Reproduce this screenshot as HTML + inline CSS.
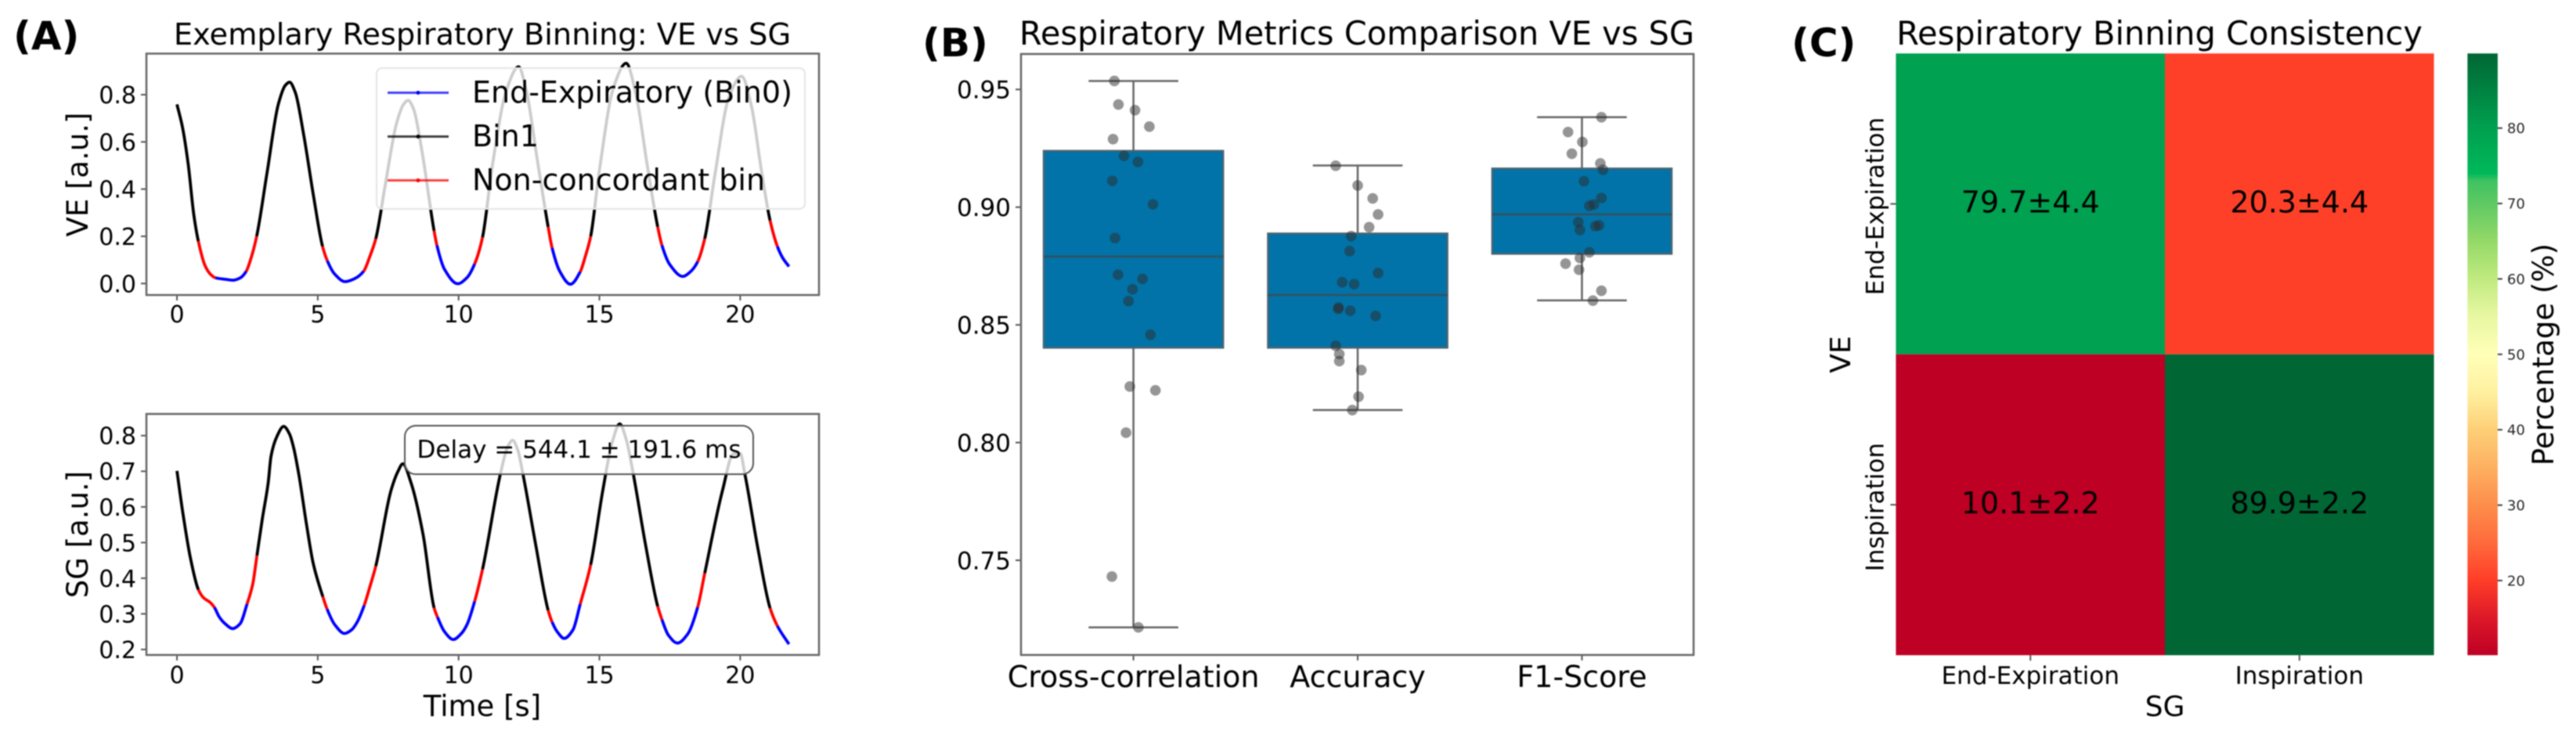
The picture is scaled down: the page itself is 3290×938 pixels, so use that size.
<!DOCTYPE html>
<html lang="en">
<head>
<meta charset="utf-8">
<title>Respiratory Binning: VE vs SG</title>
<style>
html,body{margin:0;padding:0;background:#fff;width:3290px;height:938px;overflow:hidden}
svg{display:block;filter:blur(0.7px)}
text{font-family:"DejaVu Sans","Liberation Sans",sans-serif;fill:#000}
</style>
</head>
<body>
<svg id="figure" xmlns="http://www.w3.org/2000/svg" width="3290" height="938" viewBox="0 0 3290 938">
  <defs>
    <linearGradient id="cbar-gradient" x1="0" y1="1" x2="0" y2="0"></linearGradient>
  </defs>
  <rect x="0" y="0" width="3290" height="938" fill="#ffffff"/>

  <text x="17" y="63" font-size="50" font-weight="bold">(A)</text>
  <text x="1178" y="72" font-size="50" font-weight="bold">(B)</text>
  <text x="2288" y="72" font-size="50" font-weight="bold">(C)</text>

  <text x="616" y="57" font-size="38.3" text-anchor="middle">Exemplary Respiratory Binning: VE vs SG</text>
  <text x="1733" y="57" font-size="41.5" text-anchor="middle">Respiratory Metrics Comparison VE vs SG</text>
  <text x="2758" y="57" font-size="41.5" text-anchor="middle">Respiratory Binning Consistency</text>

  <g id="ve-plot"></g>
  <g id="sg-plot"></g>
  <g id="box-plot"></g>
  <g id="heat-plot"></g>

  <text transform="translate(112,223) rotate(-90)" font-size="37" text-anchor="middle">VE [a.u.]</text>
  <text transform="translate(112,683) rotate(-90)" font-size="37" text-anchor="middle">SG [a.u.]</text>
  <text x="616" y="915" font-size="37" text-anchor="middle">Time [s]</text>
  <text transform="translate(2363,453) rotate(-90)" font-size="36" text-anchor="middle">VE</text>
  <text x="2765" y="915" font-size="36" text-anchor="middle">SG</text>
  <text transform="translate(3261,453) rotate(-90)" font-size="37" text-anchor="middle">Percentage (%)</text>

  <g id="legend">
    <rect x="481" y="87" width="547" height="180" rx="7" fill="#ffffff" fill-opacity="0.8" stroke="#e4e4e4" stroke-width="2"/>
    <line x1="495" x2="573" y1="118.5" y2="118.5" stroke="#0000ff" stroke-opacity="0.75" stroke-width="3"/>
    <circle cx="534" cy="118.5" r="2.5" fill="#0000ff"/>
    <text x="603" y="131" font-size="38">End-Expiratory (Bin0)</text>
    <line x1="495" x2="573" y1="174.5" y2="174.5" stroke="#000000" stroke-opacity="0.75" stroke-width="3"/>
    <circle cx="534" cy="174.5" r="2.5" fill="#000000"/>
    <text x="603" y="187" font-size="38">Bin1</text>
    <line x1="495" x2="573" y1="230.5" y2="230.5" stroke="#ff0000" stroke-opacity="0.75" stroke-width="3"/>
    <circle cx="534" cy="230.5" r="2.5" fill="#ff0000"/>
    <text x="603" y="243" font-size="38">Non-concordant bin</text>
  </g>

  <g id="delay-note">
    <rect x="517" y="544" width="445" height="62" rx="14" fill="#ffffff" fill-opacity="0.8" stroke="#555555" stroke-width="2"/>
    <text x="739.5" y="585" font-size="31" text-anchor="middle">Delay = 544.1 ± 191.6 ms</text>
  </g>
</svg>

<script>
/* ---------- Panel A: ventilation (VE) trace ---------- */
const timeTicks = [0, 5, 10, 15, 20];
const veTicks = [0.0, 0.2, 0.4, 0.6, 0.8];
const sgTicks = [0.2, 0.3, 0.4, 0.5, 0.6, 0.7, 0.8];

const veTime = [0,0.2,0.4,0.6,0.76,1.0,1.2,1.37,1.7,2.0,2.25,2.46,2.65,2.83,3.2,3.6,3.85,4.0,4.2,4.5,4.85,5.17,5.34,5.6,5.97,6.3,6.63,6.85,7.06,7.4,7.8,8.05,8.21,8.4,8.7,9.13,9.23,9.5,9.97,10.3,10.57,10.85,11.2,11.7,12.13,12.4,12.8,13.18,13.32,13.6,13.97,14.32,14.5,14.69,15.0,15.5,15.95,16.3,16.7,17.07,17.22,17.5,17.96,18.25,18.49,18.74,19.1,19.6,20.05,20.4,20.75,21.06,21.32,21.5,21.73];
const veValues = [0.759,0.66,0.505,0.29,0.179,0.075,0.038,0.024,0.018,0.014,0.024,0.052,0.115,0.2,0.47,0.76,0.84,0.853,0.81,0.63,0.37,0.157,0.096,0.04,0.008,0.02,0.052,0.115,0.19,0.42,0.68,0.76,0.776,0.74,0.56,0.223,0.162,0.06,-0.001,0.025,0.083,0.196,0.5,0.82,0.918,0.82,0.52,0.24,0.151,0.05,-0.003,0.05,0.115,0.2,0.48,0.83,0.933,0.8,0.5,0.24,0.162,0.08,0.03,0.052,0.093,0.19,0.46,0.79,0.878,0.75,0.48,0.267,0.157,0.11,0.072];
/* bin per knot: 0 end-expiratory, 1 bin1, 2 non-concordant */
const veBins = [1,1,1,1,2,2,2,0,0,0,0,2,2,1,1,1,1,1,1,1,1,2,0,0,0,0,2,2,1,1,1,1,1,1,1,2,0,0,0,0,2,1,1,1,1,1,1,2,0,0,0,2,2,1,1,1,1,1,1,2,0,0,0,0,2,1,1,1,1,1,1,2,0,0,0];

/* ---------- Panel A: surrogate (SG) trace ---------- */
const sgTime = [0,0.2,0.48,0.76,0.945,1.18,1.33,1.5,1.7,1.98,2.24,2.49,2.69,2.84,3.03,3.24,3.34,3.54,3.79,4.0,4.14,4.33,4.6,4.84,5.18,5.33,5.6,5.95,6.2,6.4,6.65,6.85,7.06,7.6,7.85,8.02,8.31,8.74,9.13,9.25,9.5,9.81,10.1,10.3,10.57,10.85,11.5,11.75,11.92,12.1,12.29,12.74,13.18,13.32,13.5,13.75,14.06,14.32,14.69,15.12,15.45,15.72,15.95,16.19,16.64,17.07,17.22,17.45,17.77,18.14,18.49,18.74,19.37,19.76,20.0,20.17,20.64,21.06,21.32,21.73];
const sgValues = [0.701,0.588,0.456,0.368,0.345,0.332,0.318,0.2915,0.273,0.2586,0.272,0.328,0.383,0.4635,0.566,0.668,0.742,0.796,0.826,0.804,0.767,0.69,0.551,0.441,0.348,0.3135,0.27,0.245,0.255,0.277,0.324,0.376,0.434,0.646,0.7,0.721,0.668,0.522,0.317,0.291,0.25,0.228,0.245,0.27,0.335,0.425,0.698,0.77,0.787,0.76,0.69,0.493,0.31,0.277,0.25,0.231,0.255,0.328,0.438,0.646,0.78,0.833,0.79,0.698,0.493,0.321,0.284,0.24,0.218,0.244,0.319,0.414,0.646,0.749,0.75,0.69,0.478,0.316,0.266,0.215];
const sgBins = [1,1,1,2,2,2,0,0,0,0,0,2,2,1,1,1,1,1,1,1,1,1,1,1,2,0,0,0,0,0,2,2,1,1,1,1,1,1,2,0,0,0,0,0,2,1,1,1,1,1,1,1,2,0,0,0,0,2,1,1,1,1,1,1,1,2,0,0,0,0,2,1,1,1,1,1,1,2,0,0];

/* ---------- Panel B: box plot ---------- */
const metricNames = ["Cross-correlation", "Accuracy", "F1-Score"];
const metricTicks = [0.75, 0.80, 0.85, 0.90, 0.95];
const boxQ1 = [0.8403, 0.8403, 0.8802];
const boxMedian = [0.879, 0.8627, 0.8969];
const boxQ3 = [0.9239, 0.8888, 0.9164];
const whiskerLow = [0.7215, 0.8138, 0.8604];
const whiskerHigh = [0.9536, 0.9177, 0.9382];

const crossCorrValues = [0.9536,0.9436,0.9412,0.9342,0.9289,0.9218,0.9192,0.9112,0.9012,0.8869,0.8713,0.8695,0.8651,0.8601,0.8458,0.8238,0.8222,0.8042,0.7431,0.7215];
const crossCorrJitter = [-0.085,-0.067,0.007,0.071,-0.091,-0.042,0.02,-0.094,0.087,-0.082,-0.069,0.04,-0.004,-0.022,0.076,-0.016,0.098,-0.033,-0.096,0.022];
const accuracyValues = [0.9176,0.9092,0.9037,0.8969,0.8915,0.8877,0.8813,0.872,0.8681,0.8673,0.8574,0.8568,0.856,0.8538,0.8411,0.8376,0.8346,0.8308,0.8195,0.8138];
const accuracyJitter = [-0.098,0,0.067,0.091,0.051,-0.029,-0.036,0.091,-0.069,-0.016,-0.085,-0.087,-0.033,0.08,-0.098,-0.082,-0.082,0.016,0.004,-0.024];
const f1Values = [0.9382,0.9319,0.9277,0.9227,0.9186,0.9159,0.911,0.9039,0.9011,0.9006,0.8936,0.8923,0.8919,0.8903,0.8808,0.8784,0.876,0.8734,0.8645,0.8603];
const f1Jitter = [0.087,-0.062,0.002,-0.045,0.082,0.094,0.009,0.087,0.053,0.033,-0.016,0.076,0.06,-0.009,0.033,-0.009,-0.073,-0.013,0.087,0.049];

/* ---------- Panel C: heat map ---------- */
const heatCols = ["End-Expiration", "Inspiration"];
const heatRows = ["End-Expiration", "Inspiration"];
const heatRowA = [79.7, 20.3];
const heatRowB = [10.1, 89.9];
const heatStdA = [4.4, 4.4];
const heatStdB = [2.2, 2.2];
const colorbarTicks = [20, 30, 40, 50, 60, 70, 80];
const colorRange = [10.1, 89.9];
const colormapLevels = [10,15,20,25,30,35,40,45,50,55,60,65,70,73,74,80,90];
const colormapColors = ["#bd0024","#dc1828","#ff3d28","#fe6a3c","#fd8d4a","#fdb060","#fdcf77","#fff0a0","#ffffb8","#e8f7a2","#c0ea80","#94d968","#5ec963","#3fc262","#00b85a","#00a04f","#006634"];

/* ---------- helpers ---------- */
const NS = "http://www.w3.org/2000/svg";
function make(parent, tag, attrs, content) {
  const node = document.createElementNS(NS, tag);
  for (const k in attrs) node.setAttribute(k, attrs[k]);
  if (content !== undefined) node.textContent = content;
  parent.appendChild(node);
  return node;
}
function linear(d0, d1, r0, r1) {
  return v => r0 + (v - d0) * (r1 - r0) / (d1 - d0);
}
function hexToRgb(h) {
  return [1, 3, 5].map(i => parseInt(h.slice(i, i + 2), 16));
}
function colormap(v) {
  const lv = colormapLevels;
  if (v <= lv[0]) return colormapColors[0];
  for (let i = 1; i < lv.length; i++) {
    if (v <= lv[i]) {
      const f = (v - lv[i - 1]) / (lv[i] - lv[i - 1]);
      const a = hexToRgb(colormapColors[i - 1]);
      const b = hexToRgb(colormapColors[i]);
      return "rgb(" + a.map((c, j) => Math.round(c + (b[j] - c) * f)).join(",") + ")";
    }
  }
  return colormapColors[colormapColors.length - 1];
}
/* monotone cubic tangents for smooth curve between read-off knots */
function tangents(xs, ys) {
  const n = xs.length, d = [], m = new Array(n);
  for (let i = 0; i < n - 1; i++) d.push((ys[i + 1] - ys[i]) / (xs[i + 1] - xs[i]));
  m[0] = d[0]; m[n - 1] = d[n - 2];
  for (let i = 1; i < n - 1; i++) {
    if (d[i - 1] * d[i] <= 0) m[i] = 0;
    else {
      const a = xs[i] - xs[i - 1], b = xs[i + 1] - xs[i];
      m[i] = 3 * (a + b) / ((2 * b + a) / d[i - 1] + (b + 2 * a) / d[i]);
    }
  }
  return m;
}
const binColors = ["#0000ff", "#000000", "#ff0000"];
const binNames = ["end-expiratory", "bin1", "non-concordant"];

function drawCurve(group, name, times, values, bins, sx, sy) {
  const m = tangents(times, values);
  let start = 0;
  while (start < times.length - 1) {
    let end = start + 1;
    while (end < times.length - 1 && bins[end] === bins[start]) end++;
    let d = "M" + sx(times[start]).toFixed(2) + " " + sy(values[start]).toFixed(2);
    for (let i = start; i < end; i++) {
      const h = times[i + 1] - times[i];
      d += "C" + sx(times[i] + h / 3).toFixed(2) + " " + sy(values[i] + m[i] * h / 3).toFixed(2) + " " +
           sx(times[i + 1] - h / 3).toFixed(2) + " " + sy(values[i + 1] - m[i + 1] * h / 3).toFixed(2) + " " +
           sx(times[i + 1]).toFixed(2) + " " + sy(values[i + 1]).toFixed(2);
    }
    const seg = make(group, "path", {d: d, fill: "none", stroke: binColors[bins[start]], "stroke-width": 3.8});
    
    
    start = end;
  }
}
function drawFrame(group, name, x, y, w, h) {
  const frame = make(group, "rect", {x: x, y: y, width: w, height: h, fill: "none", stroke: "#666666", "stroke-width": 2.5});
  
  
}
function tickX(group, name, x, y0, label, labelY, size) {
  const t = make(group, "line", {x1: x, x2: x, y1: y0, y2: y0 + 7, stroke: "#555555", "stroke-width": 2});
  
  
  const l = make(group, "text", {x: x, y: labelY, "font-size": size, "text-anchor": "middle"}, label);
  
  
}
function tickY(group, name, x0, y, label, size, color) {
  const t = make(group, "line", {x1: x0 - 7, x2: x0, y1: y, y2: y, stroke: "#555555", "stroke-width": 2});
  
  
  const l = make(group, "text", {x: x0 - 13, y: y + size * 0.365, "font-size": size, "text-anchor": "end"}, label);
  
  
}

/* ---------- draw panel A ---------- */
const timeX = linear(0, 20, 226, 945.4);
const veY = linear(0, 0.8, 362.3, 121);
const sgY = linear(0.2, 0.8, 830, 556.7);
const vePlot = document.getElementById("ve-plot");
const sgPlot = document.getElementById("sg-plot");

timeTicks.forEach(t => {
  tickX(vePlot, "ve-time", timeX(t), 377, String(t), 412, 30);
  tickX(sgPlot, "sg-time", timeX(t), 837, String(t), 873, 30);
});
veTicks.forEach(v => tickY(vePlot, "ve-value", 187, veY(v), v.toFixed(1), 30));
sgTicks.forEach(v => tickY(sgPlot, "sg-value", 187, sgY(v), v.toFixed(1), 30));
drawCurve(vePlot, "ve-trace", veTime, veValues, veBins, timeX, veY);
drawCurve(sgPlot, "sg-trace", sgTime, sgValues, sgBins, timeX, sgY);
drawFrame(vePlot, "ve-plot", 187, 68.5, 859, 308.5);
drawFrame(sgPlot, "sg-plot", 187, 529, 859, 308);

/* ---------- draw panel B ---------- */
const catX = linear(0, 2, 1447.6, 2020.4);
const metricY = linear(0.75, 0.95, 716, 114.3);
const boxPlot = document.getElementById("box-plot");
const stepX = catX(1) - catX(0);
const pointSets = [[crossCorrValues, crossCorrJitter], [accuracyValues, accuracyJitter], [f1Values, f1Jitter]];

metricTicks.forEach(v => tickY(boxPlot, "metric-value", 1304, metricY(v), v.toFixed(2), 31));
metricNames.forEach((label, i) => {
  const cx = catX(i), hw = stepX * 0.4, cw = stepX * 0.2;
  tickX(boxPlot, "metric-" + i, cx, 837, label, 878, 38);
  const w1 = make(boxPlot, "line", {x1: cx, x2: cx, y1: metricY(whiskerHigh[i]), y2: metricY(boxQ3[i]), stroke: "#666666", "stroke-width": 2.5});
  
  
  const w2 = make(boxPlot, "line", {x1: cx, x2: cx, y1: metricY(boxQ1[i]), y2: metricY(whiskerLow[i]), stroke: "#666666", "stroke-width": 2.5});
  
  
  const c1 = make(boxPlot, "line", {x1: cx - cw, x2: cx + cw, y1: metricY(whiskerHigh[i]), y2: metricY(whiskerHigh[i]), stroke: "#666666", "stroke-width": 2.5});
  
  
  const c2 = make(boxPlot, "line", {x1: cx - cw, x2: cx + cw, y1: metricY(whiskerLow[i]), y2: metricY(whiskerLow[i]), stroke: "#666666", "stroke-width": 2.5});
  
  
  const box = make(boxPlot, "rect", {x: cx - hw, y: metricY(boxQ3[i]), width: hw * 2, height: metricY(boxQ1[i]) - metricY(boxQ3[i]), fill: "#0173a8", stroke: "#4a6472", "stroke-width": 2.5});
  
  
  const med = make(boxPlot, "line", {x1: cx - hw, x2: cx + hw, y1: metricY(boxMedian[i]), y2: metricY(boxMedian[i]), stroke: "#2f5468", "stroke-width": 3});
  
  
  const vals = pointSets[i][0], jit = pointSets[i][1];
  vals.forEach((v, k) => {
    const dot = make(boxPlot, "circle", {cx: cx + jit[k] * stepX, cy: metricY(v), r: 6.8, fill: "#2b2b2b", "fill-opacity": 0.5});
    
    
  });
});
drawFrame(boxPlot, "metrics-plot", 1304, 69, 859, 768);

/* ---------- draw panel C ---------- */
const heatPlot = document.getElementById("heat-plot");
const colX = linear(0, 2, 2421.4, 3108.6);
const rowY = linear(0, 2, 68.3, 837.3);
const heatValues = [heatRowA, heatRowB];
const heatStds = [heatStdA, heatStdB];

heatValues.forEach((row, r) => {
  row.forEach((v, c) => {
    const cell = make(heatPlot, "rect", {x: colX(c), y: rowY(r), width: colX(c + 1) - colX(c), height: rowY(r + 1) - rowY(r), fill: colormap(v)});
    
    
  });
});
heatValues.forEach((row, r) => {
  row.forEach((v, c) => {
    const label = make(heatPlot, "text", {x: colX(c + 0.5), y: rowY(r + 0.5) + 11, "font-size": 38, "text-anchor": "middle"}, v.toFixed(1) + "±" + heatStds[r][c].toFixed(1));
    
    
  });
});
heatCols.forEach((label, c) => {
  tickX(heatPlot, "heatmap-col", colX(c + 0.5), 837.3, label, 874, 31);
});
heatRows.forEach((label, r) => {
  const y = rowY(r + 0.5);
  const t = make(heatPlot, "line", {x1: 2414.4, x2: 2421.4, y1: y, y2: y, stroke: "#555555", "stroke-width": 2});
  
  
  const l = make(heatPlot, "text", {transform: "translate(2405.7," + (y + 3) + ") rotate(-90)", "font-size": 31, "text-anchor": "middle"}, label);
  
  
});

/* colour bar */
const cbarY = linear(colorRange[0], colorRange[1], 837.3, 68.3);
const gradient = document.getElementById("cbar-gradient");
colormapLevels.forEach((lv, i) => {
  const off = Math.min(1, Math.max(0, (lv - colorRange[0]) / (colorRange[1] - colorRange[0])));
  make(gradient, "stop", {offset: off, "stop-color": colormapColors[i]});
});
const cbar = make(heatPlot, "rect", {x: 3151.4, y: 68.3, width: 38.6, height: 769, fill: "url(#cbar-gradient)"});


colorbarTicks.forEach(v => {
  const y = cbarY(v);
  const t = make(heatPlot, "line", {x1: 3190, x2: 3196, y1: y, y2: y, stroke: "#444444", "stroke-width": 2});
  
  
  const l = make(heatPlot, "text", {x: 3202, y: y + 6.5, "font-size": 18, style: "fill:#262626"}, String(v));
  
  
});
</script>
</body>
</html>
